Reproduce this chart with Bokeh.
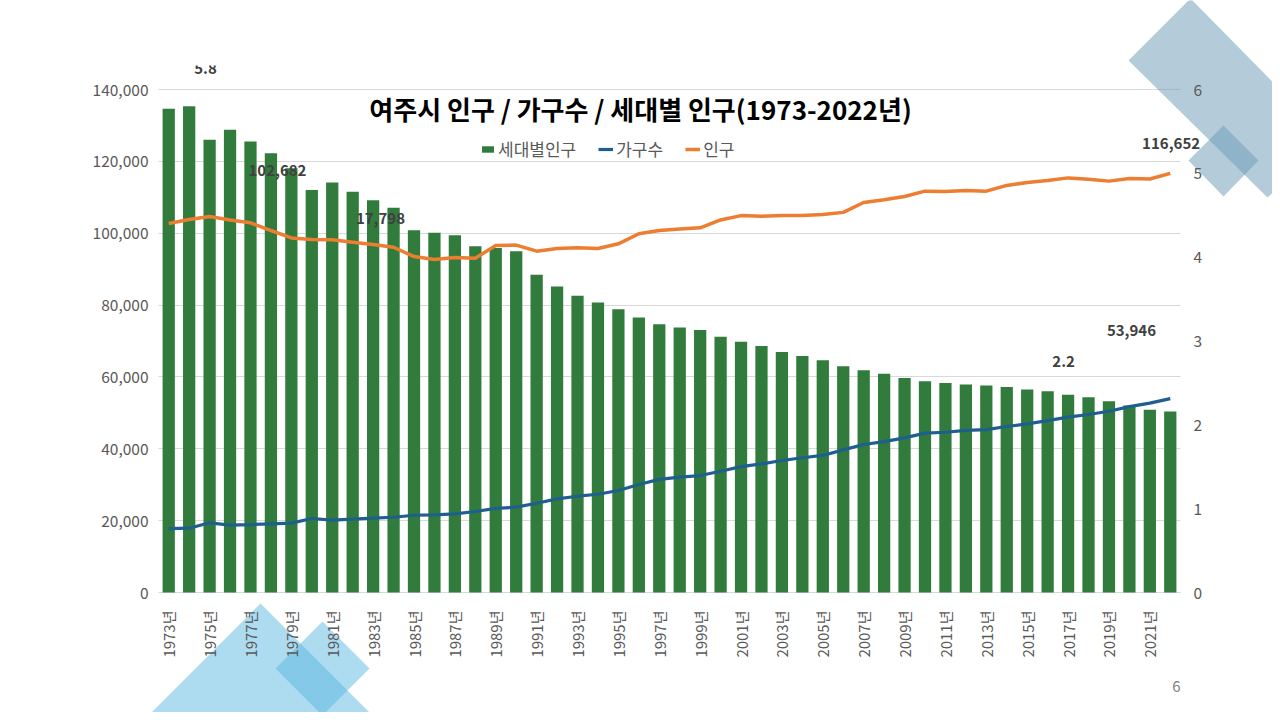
from bokeh.plotting import figure
from bokeh.models import (ColumnDataSource, LinearAxis, Range1d, FixedTicker, Legend, LegendItem,
                          Label, PolyAnnotation, BoxAnnotation, NumeralTickFormatter)
from bokeh.embed import file_html
from bokeh.resources import INLINE

years = list(range(1973, 2023))
per_household = [5.77, 5.80, 5.40, 5.52, 5.38, 5.24, 5.06, 4.80, 4.89, 4.78,
                 4.68, 4.59, 4.32, 4.29, 4.26, 4.13, 4.11, 4.07, 3.79, 3.65,
                 3.54, 3.46, 3.38, 3.28, 3.20, 3.16, 3.13, 3.05, 2.99, 2.94,
                 2.87, 2.82, 2.77, 2.70, 2.65, 2.61, 2.56, 2.52, 2.50, 2.48,
                 2.47, 2.45, 2.42, 2.40, 2.36, 2.33, 2.28, 2.23, 2.18, 2.16]
households = [17798, 17900, 19400, 18750, 18900, 19100, 19300, 20600, 20150, 20400,
              20700, 20950, 21500, 21600, 21900, 22550, 23400, 23750, 24850, 26050,
              26800, 27350, 28400, 30050, 31500, 32100, 32550, 33750, 35050, 35800,
              36750, 37500, 38150, 39700, 41200, 42000, 43050, 44350, 44600, 45100,
              45350, 46200, 46950, 47850, 48800, 49550, 50450, 51750, 52700, 53946]
population = [102682, 103800, 104650, 103700, 102900, 100750, 98700, 98250, 98150, 97500,
              96850, 96100, 93500, 92700, 93250, 93050, 96600, 96700, 95000, 95750,
              95950, 95750, 97050, 99850, 100750, 101200, 101500, 103700, 104900, 104750,
              104900, 104900, 105200, 105800, 108550, 109300, 110200, 111700, 111600, 111900,
              111700, 113300, 114100, 114650, 115400, 115050, 114500, 115200, 115100, 116652]
left_ticks = [0, 20000, 40000, 60000, 80000, 100000, 120000, 140000]
right_ticks = [0, 1, 2, 3, 4, 5, 6]
label_years = list(range(1973, 2023, 2))

title_text = "여주시 인구 / 가구수 / 세대별 인구(1973-2022년)"
series_names = ["세대별인구", "가구수", "인구"]

FONT = "Noto Sans CJK KR"
GRAY = "#595959"
W, H = 1272, 712

# plot area in page pixels: x 158..1180, y 592 (0) .. 89 (140,000 / 6)
PX_PER_YEAR = 1022 / 50
X0 = 1972.5 - 158 / PX_PER_YEAR
X1 = 1972.5 + (W - 158) / PX_PER_YEAR
V_PER_PX = 140000 / 503
R_PER_PX = 6 / 503

src = ColumnDataSource(dict(year=years, ratio=per_household, hh=households, pop=population))

p = figure(width=W, height=H, output_backend="svg", toolbar_location=None,
           x_range=Range1d(X0, X1),
           y_range=Range1d(-(H - 592) * V_PER_PX, 592 * V_PER_PX),
           min_border=0, min_border_left=0, min_border_right=0,
           min_border_top=0, min_border_bottom=0,
           background_fill_color="white", border_fill_color="white")
p.outline_line_color = None
p.extra_y_ranges = {"ratio": Range1d(-(H - 592) * R_PER_PX, 592 * R_PER_PX)}

# decorative slide shapes (screen units, frame = whole canvas)
def poly(pts, color, alpha):
    pa = PolyAnnotation(xs=[x for x, y in pts], ys=[H - y for x, y in pts],
                        xs_units="screen", ys_units="screen",
                        fill_color=color, fill_alpha=alpha, line_color=None, level="underlay")
    p.add_layout(pa)

poly([(1128, 60), (1190, -2), (1330, 140), (1267, 197)], "#6A9AB5", 0.5)
poly([(1188, 160), (1223, 125), (1258, 160), (1223, 196)], "#6A9AB5", 0.5)
poly([(260, 603), (377, 720), (143, 720)], "#5BB8E0", 0.5)
poly([(322, 621), (369, 668), (322, 715), (275, 668)], "#5BB8E0", 0.5)

p.ygrid.ticker = FixedTicker(ticks=left_ticks)
p.ygrid.grid_line_color = "#D9D9D9"
p.ygrid.cross_bounds = (1972.5, 2022.5)
p.xgrid.grid_line_color = None

bars = p.vbar(x="year", top="ratio", width=0.6, source=src, y_range_name="ratio",
              fill_color="#317C3C", line_color=None)
l_hh = p.line(x="year", y="hh", source=src, line_color="#1F5F8E", line_width=3.2)
l_pop = p.line(x="year", y="pop", source=src, line_color="#ED7D31", line_width=3.5)

# axes (fixed at the plot-area edges so they take no panel space)
ya = p.yaxis[0]
ya.ticker = FixedTicker(ticks=left_ticks)
ya.formatter = NumeralTickFormatter(format="0,0")
ya.fixed_location = 1972.5

ra = LinearAxis(y_range_name="ratio", ticker=FixedTicker(ticks=right_ticks), fixed_location=2022.5)
p.add_layout(ra, "right")

xa = p.xaxis[0]
xa.ticker = FixedTicker(ticks=label_years)
xa.major_label_overrides = {y: f"{y}년" for y in label_years}
xa.major_label_orientation = 3.14159265 / 2
xa.fixed_location = 0

for ax, so, fs in ((ya, 10, "15.5px"), (ra, 13, "15.5px"), (xa, 18, "15px")):
    ax.axis_line_color = None
    ax.major_tick_line_color = None
    ax.minor_tick_line_color = None
    ax.major_tick_out = 0
    ax.major_tick_in = 0
    ax.major_label_standoff = so
    ax.major_label_text_font = FONT
    ax.major_label_text_font_size = fs
    ax.major_label_text_color = GRAY

# legend
legend = Legend(items=[LegendItem(label=series_names[0], renderers=[bars]),
                       LegendItem(label=series_names[1], renderers=[l_hh]),
                       LegendItem(label=series_names[2], renderers=[l_pop])],
                location=(480, H - 161), orientation="horizontal",
                background_fill_alpha=0, border_line_color=None,
                padding=0, margin=0, spacing=22, label_standoff=3,
                glyph_width=15, glyph_height=8,
                label_text_font=FONT, label_text_font_size="17px", label_text_color=GRAY)
p.add_layout(legend)

# title
p.add_layout(Label(x=640, y=H - 108, x_units="screen", y_units="screen", text=title_text,
                   text_align="center", text_baseline="middle", text_font=FONT,
                   text_font_size="26px", text_font_style="bold", text_color="#000000"))

# data labels
lab_kw = dict(text_font=FONT, text_font_size="15px", text_font_style="bold",
              text_color="#404040", text_align="center", text_baseline="middle")
p.add_layout(Label(x=1974.8, y=145845, text=f"{per_household[1]:.1f}", **lab_kw))
p.add_layout(BoxAnnotation(left=180, right=232, bottom=H - 65, top=H,
                           left_units="screen", right_units="screen",
                           bottom_units="screen", top_units="screen",
                           fill_color="white", fill_alpha=1.0, line_color=None))
p.add_layout(Label(x=1978.32, y=117455, text=f"{population[0]:,}", **lab_kw))
p.add_layout(Label(x=1983.36, y=104095, text=f"{households[0]:,}", **lab_kw))
p.add_layout(Label(x=2022.04, y=125056, text=f"{population[-1]:,}", **lab_kw))
p.add_layout(Label(x=2020.10, y=72922, text=f"{households[-1]:,}", **lab_kw))
p.add_layout(Label(x=2016.78, y=64294, text=f"{per_household[-1]:.1f}", **lab_kw))

# page number
p.add_layout(Label(x=1176, y=H - 686, x_units="screen", y_units="screen", text="6",
                   text_align="center", text_baseline="middle", text_font=FONT,
                   text_font_size="15px", text_color="#7F7F7F"))

open("out.html", "w").write(file_html(p, INLINE))
